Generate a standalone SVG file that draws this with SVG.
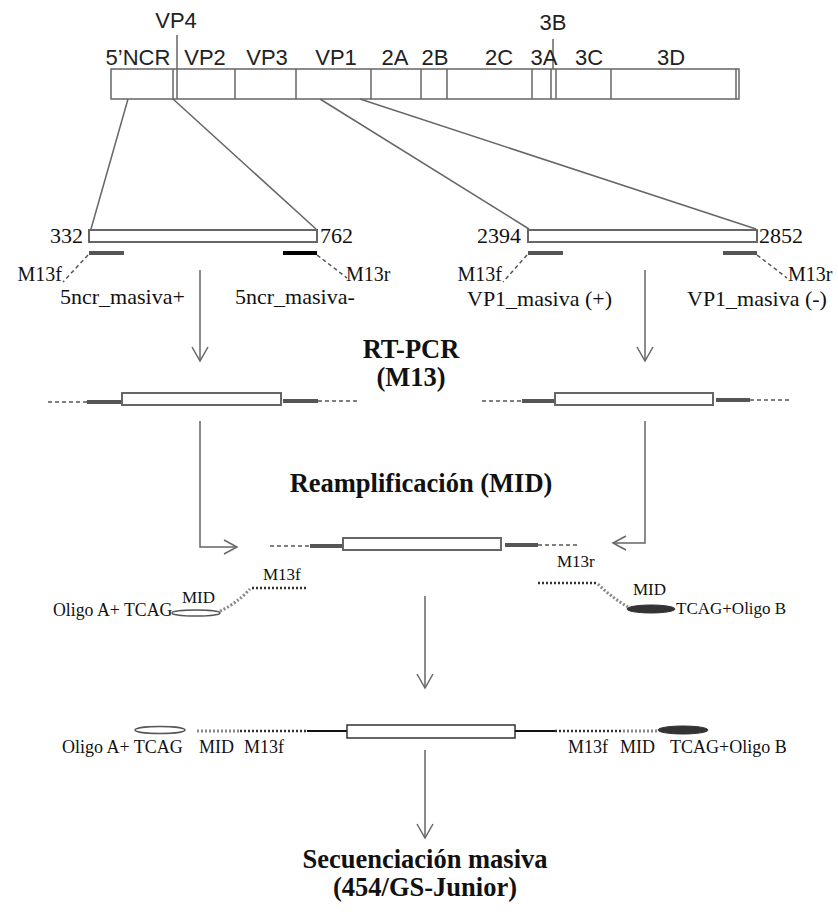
<svg xmlns="http://www.w3.org/2000/svg" width="838" height="919" viewBox="0 0 838 919">
<defs>
<style>
.sans{font-family:"Liberation Sans",Arial,sans-serif;font-size:22px;fill:#222}
.serif{font-family:"Liberation Serif","Times New Roman",serif;font-size:22px;fill:#111}
.sm{font-size:17px}
.m13{font-size:20px}
.big{font-size:18px}
.bold{font-family:"Liberation Serif","Times New Roman",serif;font-size:26.5px;font-weight:bold;fill:#111}
.ln{stroke:#666;stroke-width:1.5;fill:none}
.box{fill:#fff;stroke:#666;stroke-width:2}
.bar{stroke:#555;stroke-width:4;fill:none}
.dash{stroke:#555;stroke-width:1.5;stroke-dasharray:4,3;fill:none}
.dot{stroke:#333;stroke-width:2.5;stroke-dasharray:2,2;fill:none}
.dotg{stroke:#888;stroke-width:3;stroke-dasharray:2,2;fill:none}
.arr{stroke:#666;stroke-width:1.5;fill:none}
</style>
</defs>

<g id="genome">
<rect x="111" y="69" width="628" height="30" fill="#fff" stroke="#666" stroke-width="1.5"/>
<g class="ln">
<line x1="173" y1="69" x2="173" y2="99"/><line x1="177" y1="35" x2="177" y2="99"/>
<line x1="235" y1="69" x2="235" y2="99"/><line x1="296" y1="69" x2="296" y2="99"/>
<line x1="371" y1="69" x2="371" y2="99"/><line x1="421" y1="69" x2="421" y2="99"/>
<line x1="447" y1="69" x2="447" y2="99"/><line x1="532" y1="69" x2="532" y2="99"/>
<line x1="551" y1="69" x2="551" y2="99"/><line x1="553" y1="39" x2="553" y2="69"/>
<line x1="556" y1="69" x2="556" y2="99"/><line x1="611" y1="69" x2="611" y2="99"/>
<line x1="736" y1="69" x2="736" y2="99"/>
</g>
<g class="sans" text-anchor="middle">
<text x="138" y="65">5’NCR</text><text x="176" y="28">VP4</text>
<text x="205" y="65">VP2</text><text x="267" y="65">VP3</text>
<text x="336" y="65">VP1</text><text x="395" y="65">2A</text>
<text x="435" y="65">2B</text><text x="499" y="65">2C</text>
<text x="544" y="65">3A</text><text x="553" y="30">3B</text>
<text x="589" y="65">3C</text><text x="671" y="65">3D</text>
</g>
</g>

<g id="connectors">
<g class="ln">
<line x1="128" y1="99" x2="91" y2="229"/>
<line x1="173" y1="99" x2="316" y2="229"/>
<line x1="320" y1="99" x2="529" y2="229"/>
<line x1="360" y1="99" x2="756" y2="229"/>
</g>
<g class="arr">
<line x1="200" y1="270" x2="200" y2="361"/><polyline points="192,347 200,361 208,347"/>
<line x1="645" y1="270" x2="645" y2="361"/><polyline points="637,347 645,361 653,347"/>
<polyline points="200,421 200,547 237,547"/><polyline points="224,540 237,547 224,554"/>
<polyline points="645,421 645,543 613,543"/><polyline points="626,536 613,543 626,550"/>
<line x1="425" y1="596" x2="425" y2="688"/><polyline points="417,674 425,688 433,674"/>
<line x1="425" y1="750" x2="425" y2="838"/><polyline points="417,824 425,838 433,824"/>
</g>
</g>

<g id="amplicon-5ncr">
<rect class="box" x="89" y="230" width="228" height="12"/>
<text class="serif" x="83" y="243" text-anchor="end">332</text>
<text class="serif" x="320" y="243">762</text>
<line class="bar" x1="89" y1="253" x2="124" y2="253"/>
<line x1="283" y1="253" x2="317" y2="253" stroke="#000" stroke-width="4"/>
<line class="dash" x1="88" y1="255" x2="63" y2="282"/>
<line class="dash" x1="317" y1="255" x2="347" y2="278"/>
<text class="serif m13" x="62" y="281" text-anchor="end">M13f</text>
<text class="serif m13" x="346" y="281">M13r</text>
<text class="serif" x="60" y="304">5ncr_masiva+</text>
<text class="serif" x="235" y="304">5ncr_masiva-</text>
</g>

<g id="amplicon-vp1">
<rect class="box" x="528" y="230" width="229" height="12"/>
<text class="serif" x="521" y="243" text-anchor="end">2394</text>
<text class="serif" x="759" y="243">2852</text>
<line class="bar" x1="528" y1="253" x2="563" y2="253"/>
<line class="bar" x1="723" y1="253" x2="757" y2="253"/>
<line class="dash" x1="527" y1="255" x2="503" y2="282"/>
<line class="dash" x1="757" y1="255" x2="787" y2="278"/>
<text class="serif m13" x="502" y="281" text-anchor="end">M13f</text>
<text class="serif m13" x="788" y="281">M13r</text>
<text class="serif" x="467" y="306">VP1_masiva (+)</text>
<text class="serif" x="687" y="306">VP1_masiva (-)</text>
</g>

<g id="label-rtpcr" class="bold" text-anchor="middle">
<text x="411" y="358">RT-PCR</text>
<text x="411" y="386">(M13)</text>
</g>

<g id="pcr-5ncr">
<line class="dash" x1="48" y1="402" x2="87" y2="402"/>
<line class="bar" x1="87" y1="402" x2="122" y2="402"/>
<rect class="box" x="122" y="393" width="159" height="12"/>
<line class="bar" x1="283" y1="401" x2="318" y2="401"/>
<line class="dash" x1="318" y1="401" x2="360" y2="401"/>
</g>

<g id="pcr-vp1">
<line class="dash" x1="482" y1="401" x2="522" y2="401"/>
<line class="bar" x1="522" y1="401" x2="555" y2="401"/>
<rect class="box" x="555" y="393" width="158" height="12"/>
<line class="bar" x1="716" y1="400" x2="750" y2="400"/>
<line class="dash" x1="750" y1="400" x2="792" y2="400"/>
</g>

<g id="label-reamp" class="bold" text-anchor="middle">
<text x="421" y="492">Reamplificación (MID)</text>
</g>

<g id="pcr-merged">
<line class="dash" x1="270" y1="546" x2="310" y2="546"/>
<line class="bar" x1="310" y1="546" x2="343" y2="546"/>
<rect class="box" x="343" y="538" width="158" height="12"/>
<line class="bar" x1="505" y1="545" x2="538" y2="545"/>
<line class="dash" x1="538" y1="545" x2="580" y2="545"/>
</g>

<g id="primer-a">
<text class="serif" x="53" y="616" style="font-size:17.8px">Oligo A+ TCAG</text>
<ellipse cx="196" cy="613" rx="24" ry="3" fill="#fff" stroke="#555" stroke-width="1.5"/>
<text class="serif sm" x="182" y="603">MID</text>
<path class="dotg" d="M220,611 Q236,604 250,589"/>
<line class="dot" x1="252" y1="588" x2="307" y2="588"/>
<text class="serif sm" x="263" y="580">M13f</text>
</g>

<g id="primer-b">
<text class="serif sm" x="557" y="567">M13r</text>
<line class="dot" x1="538" y1="583" x2="596" y2="583"/>
<path class="dotg" d="M598,584 Q612,598 628,607"/>
<ellipse cx="651" cy="609" rx="24" ry="4" fill="#333" stroke="#333"/>
<text class="serif sm" x="633" y="595">MID</text>
<text class="serif sm" x="676" y="614">TCAG+Oligo B</text>
</g>

<g id="final-product">
<ellipse cx="160" cy="730" rx="25" ry="3.5" fill="#fff" stroke="#555" stroke-width="1.5"/>
<line class="dotg" x1="197" y1="731" x2="240" y2="731"/>
<line class="dot" x1="240" y1="731" x2="307" y2="731"/>
<line x1="307" y1="731" x2="347" y2="731" stroke="#111" stroke-width="2"/>
<rect x="347" y="725" width="168" height="13" fill="#fff" stroke="#333" stroke-width="1.5"/>
<line x1="515" y1="731" x2="555" y2="731" stroke="#111" stroke-width="2"/>
<line class="dot" x1="555" y1="731" x2="623" y2="731"/>
<line class="dotg" x1="623" y1="731" x2="658" y2="731"/>
<ellipse cx="683" cy="730" rx="25" ry="4" fill="#333" stroke="#333"/>
<g class="serif">
<text class="big" x="62" y="753">Oligo A+ TCAG</text>
<text class="big" x="199" y="753">MID</text>
<text class="big" x="244" y="753">M13f</text>
<text class="big" x="568" y="753">M13f</text>
<text class="big" x="620" y="753">MID</text>
<text class="big" x="670" y="753">TCAG+Oligo B</text>
</g>
</g>

<g id="label-seq" class="bold" text-anchor="middle">
<text x="425" y="868">Secuenciación masiva</text>
<text x="425" y="896">(454/GS-Junior)</text>
</g>
</svg>
